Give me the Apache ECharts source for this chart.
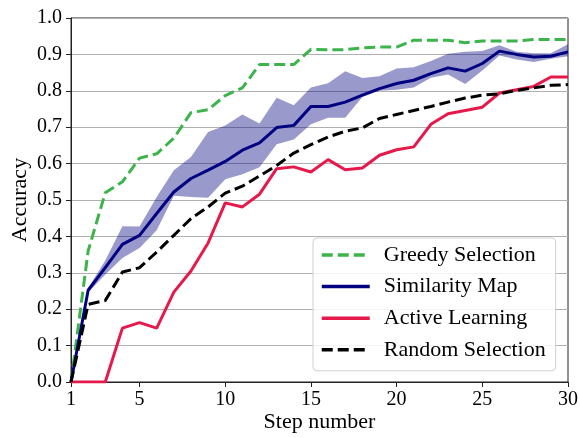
<!DOCTYPE html>
<html>
<head>
<meta charset="utf-8">
<title>Accuracy vs step number</title>
<script src="https://cdn.jsdelivr.net/npm/echarts@6/dist/echarts.min.js"></script>
<style>
  html, body { margin: 0; padding: 0; background: #fff; }
  #chart { width: 580px; height: 438px; }
</style>
</head>
<body>
<div id="chart"></div>
<script>
// Step numbers 1..30
var steps = [1,2,3,4,5,6,7,8,9,10,11,12,13,14,15,16,17,18,19,20,21,22,23,24,25,26,27,28,29,30];
var xTickLabels = [1, 5, 10, 15, 20, 25, 30];
var yTickLabels = [0.0, 0.1, 0.2, 0.3, 0.4, 0.5, 0.6, 0.7, 0.8, 0.9, 1.0];

var greedySelection = [0, 0.36, 0.52, 0.55, 0.615, 0.627, 0.67, 0.74, 0.748, 0.787, 0.808, 0.872, 0.872, 0.872, 0.914,
  0.913, 0.913, 0.918, 0.92, 0.92, 0.939, 0.939, 0.939, 0.932, 0.937, 0.937, 0.937, 0.941, 0.941, 0.941];

var similarityMap = [0, 0.252, 0.314, 0.378, 0.403, 0.463, 0.522, 0.559, 0.582, 0.606, 0.637, 0.657, 0.699, 0.705, 0.757,
  0.757, 0.769, 0.788, 0.806, 0.82, 0.829, 0.847, 0.863, 0.854, 0.875, 0.909, 0.90, 0.893, 0.895, 0.907];

var similarityUpper = [0, 0.258, 0.334, 0.428, 0.427, 0.508, 0.582, 0.618, 0.687, 0.705, 0.735, 0.71, 0.781, 0.76, 0.809,
  0.821, 0.854, 0.835, 0.84, 0.861, 0.865, 0.882, 0.902, 0.907, 0.909, 0.925, 0.907, 0.903, 0.903, 0.928];

var similarityLower = [0, 0.246, 0.295, 0.341, 0.368, 0.417, 0.512, 0.508, 0.506, 0.557, 0.571, 0.59, 0.653, 0.666, 0.708,
  0.726, 0.726, 0.783, 0.80, 0.803, 0.809, 0.836, 0.845, 0.819, 0.856, 0.897, 0.886, 0.879, 0.888, 0.895];

var activeLearning = [0, 0, 0, 0.148, 0.163, 0.148, 0.247, 0.305, 0.382, 0.492, 0.481, 0.516, 0.586, 0.591, 0.577,
  0.611, 0.583, 0.588, 0.623, 0.638, 0.646, 0.708, 0.737, 0.746, 0.755, 0.794, 0.803, 0.812, 0.838, 0.838];

var randomSelection = [0, 0.213, 0.224, 0.302, 0.314, 0.357, 0.403, 0.449, 0.481, 0.519, 0.538, 0.566, 0.595, 0.629, 0.652,
  0.673, 0.689, 0.698, 0.724, 0.735, 0.746, 0.757, 0.769, 0.78, 0.788, 0.792, 0.801, 0.808, 0.815, 0.817];

// Height of the shaded spread, stacked on top of the lower bound
var similaritySpread = similarityUpper.map(function (u, i) { return +(u - similarityLower[i]).toFixed(4); });

var FONT = '"Liberation Serif", "Times New Roman", serif';
var AXIS_COLOR = '#222';
var tickShown = function (index) { return xTickLabels.indexOf(steps[index]) !== -1; };

var chart = echarts.init(document.getElementById('chart'), null, { renderer: 'canvas' });

chart.setOption({
  animation: false,
  backgroundColor: '#fff',
  textStyle: { fontFamily: FONT },
  grid: {
    left: 71, right: 12, top: 18, bottom: 56,
    outerBoundsMode: 'none',
    containLabel: false,
    show: true, borderColor: AXIS_COLOR, borderWidth: 1, backgroundColor: 'transparent'
  },
  legend: {
    data: ['Greedy Selection', 'Similarity Map', 'Active Learning', 'Random Selection'],
    orient: 'vertical',
    left: 313, top: 238,
    padding: [6, 10, 10, 7],
    itemWidth: 48, itemHeight: 14, itemGap: 9.6,
    backgroundColor: 'rgba(255,255,255,0.85)',
    borderColor: '#d0d0d0', borderWidth: 1, borderRadius: 4,
    itemStyle: { opacity: 0 },
    lineStyle: { width: 3.5 },
    textStyle: { fontFamily: FONT, fontSize: 22, color: '#000', padding: [0, 0, 0, 9] }
  },
  xAxis: {
    type: 'category',
    data: steps.map(String),
    boundaryGap: false,
    name: 'Step number',
    nameLocation: 'middle',
    nameGap: 29,
    nameMoveOverlap: false,
    nameTextStyle: { fontFamily: FONT, fontSize: 22, color: '#000' },
    axisLine: { lineStyle: { color: AXIS_COLOR, width: 1 } },
    axisTick: { show: true, inside: false, length: 5, interval: tickShown, lineStyle: { color: AXIS_COLOR } },
    axisLabel: { interval: tickShown, margin: 8, fontFamily: FONT, fontSize: 20, color: '#000' },
    splitLine: { show: false }
  },
  yAxis: {
    type: 'value',
    min: 0, max: 1, interval: 0.1,
    name: 'Accuracy',
    nameLocation: 'middle',
    nameGap: 40,
    nameMoveOverlap: false,
    nameTextStyle: { fontFamily: FONT, fontSize: 22, color: '#000' },
    axisLine: { show: true, lineStyle: { color: AXIS_COLOR, width: 1 } },
    axisTick: { show: true, inside: false, length: 5, lineStyle: { color: AXIS_COLOR } },
    axisLabel: {
      margin: 9, fontFamily: FONT, fontSize: 20, color: '#000',
      formatter: function (v) {
        var hit = yTickLabels.filter(function (t) { return Math.abs(t - v) < 1e-6; });
        return hit.length ? hit[0].toFixed(1) : '';
      }
    },
    splitLine: { show: true, lineStyle: { color: '#b0b0b0', width: 1 } }
  },
  series: [
    {
      name: 'spread-base', type: 'line', stack: 'spread', data: similarityLower,
      symbol: 'none', silent: true, lineStyle: { opacity: 0 }, z: 1
    },
    {
      name: 'spread', type: 'line', stack: 'spread', data: similaritySpread,
      symbol: 'none', silent: true, lineStyle: { opacity: 0 },
      areaStyle: { color: 'rgba(0,0,128,0.4)', opacity: 1 }, z: 1
    },
    {
      name: 'Greedy Selection', type: 'line', data: greedySelection, symbol: 'none',
      lineStyle: { color: '#3cb44b', width: 3, type: [11, 5] }, itemStyle: { color: '#3cb44b' }, z: 3
    },
    {
      name: 'Similarity Map', type: 'line', data: similarityMap, symbol: 'none',
      lineStyle: { color: '#000080', width: 3 }, itemStyle: { color: '#000080' }, z: 3
    },
    {
      name: 'Active Learning', type: 'line', data: activeLearning, symbol: 'none',
      lineStyle: { color: '#e6194b', width: 3 }, itemStyle: { color: '#e6194b' }, z: 3
    },
    {
      name: 'Random Selection', type: 'line', data: randomSelection, symbol: 'none',
      lineStyle: { color: '#000', width: 3, type: [11, 5] }, itemStyle: { color: '#000' }, z: 3
    }
  ]
});
</script>
</body>
</html>
